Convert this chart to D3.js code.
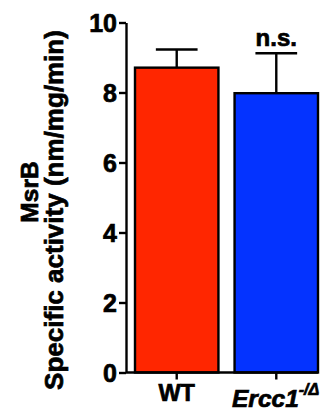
<!DOCTYPE html>
<html><head><meta charset="utf-8">
<script src="https://cdn.jsdelivr.net/npm/d3@7"></script>
<style>html,body{margin:0;padding:0;background:#fff;}svg{display:block;}</style>
</head><body>
<script>
const categories = ["WT", "Ercc1"];
const means = [8.71, 7.98];
const errors = [0.52, 1.14];
const colors = ["#ff2600", "#0433ff"];
const yTicks = [0, 2, 4, 6, 8, 10];
const annotations = ["", "n.s."];

const W = 326, H = 411;
const FONT = "Liberation Sans, Arial, sans-serif";
const svg = d3.select("body").append("svg").attr("width", W).attr("height", H);

const y = d3.scaleLinear().domain([0, 10]).range([372.5, 22.5]);
const x = d3.scaleBand().domain(categories).range([135, 318]).paddingInner(0.162).paddingOuter(0);
const axisX0 = 126;

function txt(sel) {
  return sel.attr("font-family", FONT).attr("font-weight", "bold").attr("fill", "#000")
    .attr("stroke", "#000").attr("stroke-width", 0.7);
}

// bars
svg.selectAll("rect.bar").data(categories).enter().append("rect")
  .attr("x", d => x(d)).attr("y", (d, i) => y(means[i]))
  .attr("width", x.bandwidth()).attr("height", (d, i) => y(0) - y(means[i]))
  .attr("fill", (d, i) => colors[i]).attr("stroke", "#000").attr("stroke-width", 2.4);

// error bars (upper only)
const eb = svg.selectAll("g.eb").data(categories).enter().append("g");
eb.append("line")
  .attr("x1", d => x(d) + x.bandwidth() / 2).attr("x2", d => x(d) + x.bandwidth() / 2)
  .attr("y1", (d, i) => y(means[i])).attr("y2", (d, i) => y(means[i] + errors[i]))
  .attr("stroke", "#000").attr("stroke-width", 2.4);
eb.append("line")
  .attr("x1", d => x(d) + x.bandwidth() / 4).attr("x2", d => x(d) + 3 * x.bandwidth() / 4)
  .attr("y1", (d, i) => y(means[i] + errors[i])).attr("y2", (d, i) => y(means[i] + errors[i]))
  .attr("stroke", "#000").attr("stroke-width", 2.4);

// annotations
txt(svg.selectAll("text.ann").data(categories).enter().append("text")
  .attr("x", d => x(d) + x.bandwidth() / 2).attr("y", 46)
  .attr("text-anchor", "middle").attr("font-size", 24)
  .text((d, i) => annotations[i]));

// y axis
const yAxis = d3.axisLeft(y).tickValues(yTicks).tickSize(7).tickSizeOuter(0).tickPadding(2).tickFormat(d3.format("d"));
const gy = svg.append("g").attr("transform", `translate(${axisX0},0)`).call(yAxis);
gy.select(".domain").attr("stroke", "#000").attr("stroke-width", 2.4);
gy.selectAll(".tick line").attr("stroke", "#000").attr("stroke-width", 2.4);
txt(gy.selectAll(".tick text").attr("font-size", 25).attr("dy", "0.36em"));

// x axis
const xAxis = d3.axisBottom(x).tickSize(7).tickSizeOuter(0).tickFormat(() => "");
const gx = svg.append("g").attr("transform", `translate(0,${y(0)})`).call(xAxis);
gx.select(".domain").attr("d", `M${axisX0},0H318`).attr("stroke", "#000").attr("stroke-width", 2.4);
gx.selectAll(".tick line").attr("stroke", "#000").attr("stroke-width", 2.4);

// x labels
txt(svg.append("text").attr("x", x("WT") + x.bandwidth() / 2).attr("y", 401)
  .attr("text-anchor", "middle").attr("font-size", 23.5).text("WT"));
const t2 = txt(svg.append("text").attr("x", 232).attr("y", 407)
  .attr("text-anchor", "start").attr("font-size", 24.5).attr("font-style", "italic"));
t2.append("tspan").text("Ercc1");
t2.append("tspan").attr("font-size", 16).attr("dy", -12).text("-/Δ");

// y label
txt(svg.append("text").attr("transform", "translate(38,192) rotate(-90)")
  .attr("text-anchor", "middle").attr("font-size", 24.5).text("MsrB"));
txt(svg.append("text").attr("transform", "translate(63,210) rotate(-90)")
  .attr("text-anchor", "middle").attr("font-size", 26).text("Specific activity (nm/mg/min)"));
</script>
</body></html>
